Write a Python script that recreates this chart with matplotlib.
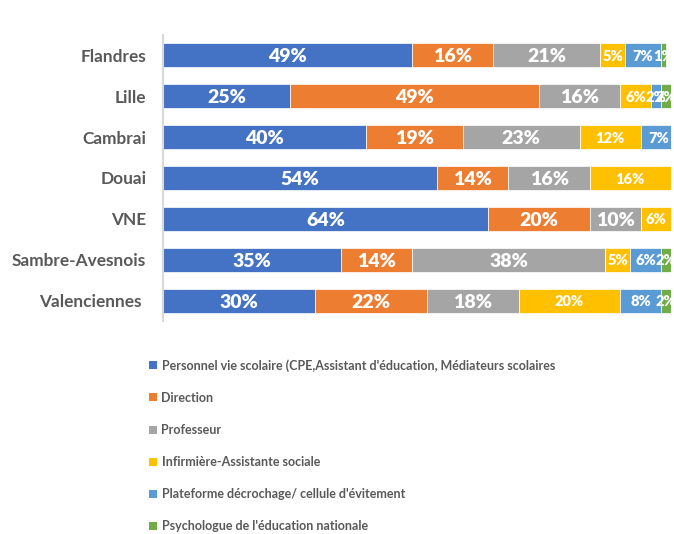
import matplotlib
matplotlib.use("Agg")
import matplotlib.pyplot as plt
from matplotlib.patches import Patch
import numpy as np

plt.rcParams['font.family'] = ['Lato', 'DejaVu Sans']

categories = ["Flandres", "Lille", "Cambrai", "Douai", "VNE", "Sambre-Avesnois", "Valenciennes "]
series_names = [
    "Personnel vie scolaire (CPE,Assistant d'éducation, Médiateurs scolaires",
    "Direction",
    "Professeur",
    "Infirmière-Assistante sociale",
    "Plateforme décrochage/ cellule d'évitement",
    "Psychologue de l'éducation nationale",
]
vie_scolaire = [49, 25, 40, 54, 64, 35, 30]
direction = [16, 49, 19, 14, 20, 14, 22]
professeur = [21, 16, 23, 16, 10, 38, 18]
infirmiere = [5, 6, 12, 16, 6, 5, 20]
plateforme = [7, 2, 7, 0, 0, 6, 8]
psychologue = [1, 2, 0, 0, 0, 2, 2]

series = [vie_scolaire, direction, professeur, infirmiere, plateforme, psychologue]
colors = ["#4472C4", "#ED7D31", "#A5A5A5", "#FFC000", "#5B9BD5", "#70AD47"]
label_sizes = [14, 14, 14, 10.5, 10.5, 10.5]

fig = plt.figure(figsize=(6.74, 5.34), dpi=100)
ax = fig.add_axes([163/674, 1-321/534, 508/674, 286/534])

y = np.arange(len(categories))
left = np.zeros(len(categories))
for vals, col, fs in zip(series, colors, label_sizes):
    vals = np.array(vals, dtype=float)
    ax.barh(y, vals, left=left, height=0.59, color=col, edgecolor="white", linewidth=0.5)
    for yi, (l, v) in enumerate(zip(left, vals)):
        if v > 0:
            ax.text(l + v/2, yi, f"{int(v)}%", ha="center", va="center_baseline",
                    color="white", fontsize=fs, fontweight="heavy")
    left += vals

ax.set_xlim(0, 100)
ax.set_ylim(6.5, -0.5)
ax.set_yticks(y)
ax.set_yticklabels(categories, fontsize=12.4, fontweight="bold", color="#595959")
ax.tick_params(axis="y", length=0, pad=12)
ax.set_xticks([])
for s in ["top", "right", "bottom"]:
    ax.spines[s].set_visible(False)
ax.spines["left"].set_color("#D9D9D9")
ax.spines["left"].set_linewidth(1.5)

handles = [Patch(facecolor=c, edgecolor="none") for c in colors]
leg = fig.legend(handles, series_names, loc="upper left",
                 bbox_to_anchor=(149/674, 1-359/534), frameon=False,
                 prop={"size": 9, "weight": "bold"}, handlelength=0.6,
                 handleheight=0.6, handletextpad=0.4, labelspacing=1.61,
                 borderpad=0, borderaxespad=0)
for t in leg.get_texts():
    t.set_color("#595959")

fig.savefig("out.png", dpi=100)
